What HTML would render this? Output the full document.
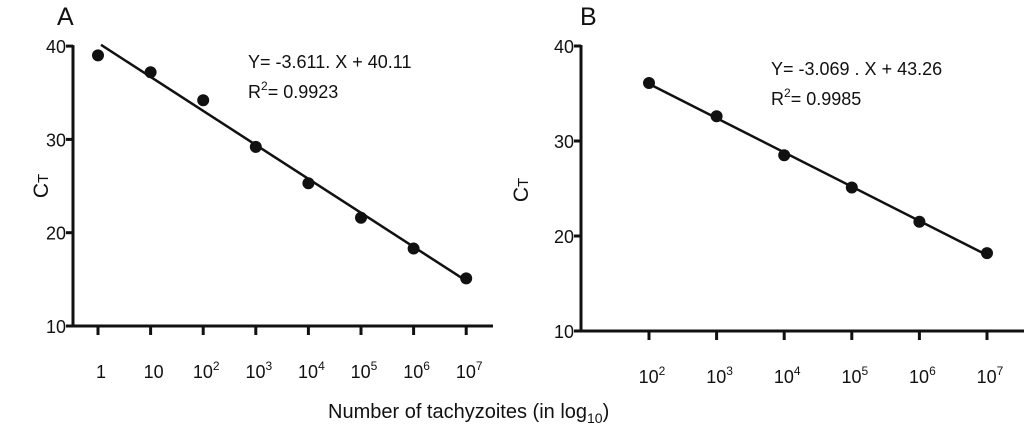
<!DOCTYPE html>
<html><head><meta charset="utf-8"><style>
body{margin:0;background:#fff;}
svg text{font-family:"Liberation Sans",Arial,sans-serif;fill:#111;}
</style></head><body>
<svg id="chart" width="1024" height="434" xmlns="http://www.w3.org/2000/svg"></svg>
<script>
const catsA=[0,1,2,3,4,5,6,7];
const valsA=[39.0,37.2,34.2,29.2,25.3,21.6,18.3,15.1];
const catsB=[2,3,4,5,6,7];
const valsB=[36.1,32.6,28.5,25.1,21.5,18.2];
const yTicks=[10,20,30,40];
const eqA=["Y= -3.611. X + 40.11","0.9923"];
const eqB=["Y= -3.069 . X + 43.26","0.9985"];
const svg=document.getElementById('chart');
const NS='http://www.w3.org/2000/svg';
function mk(t,a,p){const e=document.createElementNS(NS,t);for(const k in a)e.setAttribute(k,a[k]);(p||svg).appendChild(e);return e;}
function fit(xs,ys){const n=xs.length;let sx=0,sy=0,sxy=0,sxx=0;for(let i=0;i<n;i++){sx+=xs[i];sy+=ys[i];sxy+=xs[i]*ys[i];sxx+=xs[i]*xs[i];}const m=(n*sxy-sx*sy)/(n*sxx-sx*sx);return [m,(sy-m*sx)/n];}
function tickLabel(g,k,x,y){
  const t=mk('text',{x:x,y:y,'font-size':18,'text-anchor':'middle'},g);
  if(k===0)t.textContent='1';else if(k===1)t.textContent='10';
  else{t.textContent='10';const s=mk('tspan',{'font-size':12,dy:-8},t);s.textContent=String(k);}
  
  
}
function panel(o){
  const g=mk('g',{});
  
  
  const X=k=>o.x0+(k-o.k0)*o.dx;
  const Y=v=>o.yBot-(v-10)*o.dy;
  const pl=mk('text',{x:o.lx,y:25,'font-size':25},g);pl.textContent=o.label;
  
  const ax=mk('path',{d:`M${o.ax} ${Y(40)-1}V${o.yBot}H${o.xEnd}`,stroke:'#111','stroke-width':3,fill:'none'},g);
  
  yTicks.forEach(v=>{
    mk('line',{x1:o.ax-7,x2:o.ax,y1:Y(v),y2:Y(v),stroke:'#111','stroke-width':3},g);
    const t=mk('text',{x:o.ax-7,y:Y(v)+7,'font-size':18,'text-anchor':'end'},g);t.textContent=v;
    
  });
  o.cats.forEach(k=>{
    mk('line',{x1:X(k),x2:X(k),y1:o.yBot,y2:o.yBot+9,stroke:'#111','stroke-width':3},g);
    tickLabel(g,k,X(k)+3,o.yBot+52);
  });
  const yt=mk('text',{x:0,y:0,'font-size':21,transform:`translate(${o.ytx},${o.yty}) rotate(-90)`,'text-anchor':'middle'},g);
  yt.textContent='C';const ts=mk('tspan',{'font-size':15},yt);ts.textContent='T';
  
  const [m,b]=fit(o.cats,o.vals);
  const k1=o.cats[0],k2=o.cats[o.cats.length-1];
  const ln=mk('line',{x1:X(k1)+o.lOff,y1:Y(m*k1+b),x2:X(k2),y2:Y(m*k2+b),stroke:'#111','stroke-width':2.5},g);
  
  o.cats.forEach((k,i)=>{
    const c=mk('circle',{cx:X(k),cy:Y(o.vals[i]),r:6,fill:'#111'},g);
    
  });
  const e1=mk('text',{x:o.ex,y:o.ey,'font-size':18},g);e1.textContent=o.eq[0];
  
  const e2=mk('text',{x:o.ex,y:o.ey+30,'font-size':18},g);
  e2.appendChild(document.createTextNode('R'));const s2=mk('tspan',{'font-size':12,dy:-8},e2);s2.textContent='2';
  const s3=mk('tspan',{dy:8},e2);s3.textContent='= '+o.eq[1];
  
}
panel({id:'a',label:'A',lx:57,cats:catsA,vals:valsA,k0:0,x0:98,dx:52.6,yBot:326,dy:9.33,ax:73,xEnd:493,ytx:48,yty:186,eq:eqA,ex:248,ey:68,lOff:3});
panel({id:'b',label:'B',lx:580,cats:catsB,vals:valsB,k0:2,x0:649,dx:67.6,yBot:331,dy:9.5,ax:581,xEnd:1024,ytx:528,yty:190,eq:eqB,ex:771,ey:75,lOff:0});
const xt=mk('text',{x:328,y:418,'font-size':20});
xt.textContent='Number of tachyzoites  (in log';
const sub=mk('tspan',{'font-size':14,dy:5},xt);sub.textContent='10';
const cp=mk('tspan',{dy:-5},xt);cp.textContent=')';


</script>
</body></html>
